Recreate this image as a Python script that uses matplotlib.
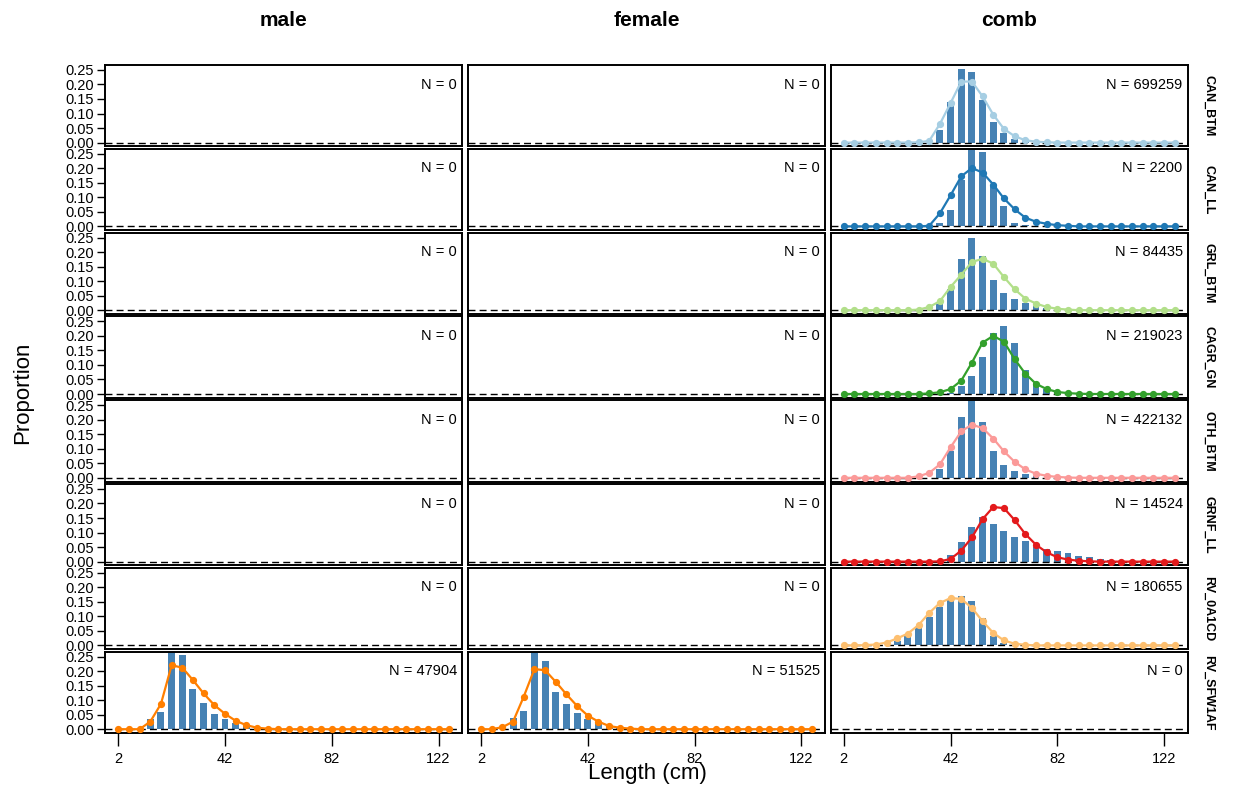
import numpy as np
import matplotlib.pyplot as plt

plt.rcParams['font.family'] = ['Liberation Sans', 'DejaVu Sans']

# length bins (cm)
lengths = np.arange(2, 127, 4)

fleets = ['CAN_BTM', 'CAN_LL', 'GRL_BTM', 'CAGR_GN', 'OTH_BTM', 'GRNF_LL',
          'RV_0A1CD', 'RV_SFW1AF']
sexes = ['male', 'female', 'comb']
fleet_cols = ['#A6CEE3', '#1F78B4', '#B2DF8A', '#33A02C', '#FB9A99',
              '#E31A1C', '#FDBF6F', '#FF7F00']

# observed (bars) and fitted (lines) proportions at length
can_btm_obs = [0] * 9 + [0.045, 0.139, 0.253, 0.242, 0.147, 0.071, 0.033, 0.014, 0.004] + [0] * 14
can_btm_fit = [0] * 7 + [0.001, 0.006, 0.064, 0.136, 0.210, 0.210, 0.159, 0.096, 0.047,
                         0.022, 0.008, 0.003, 0.001] + [0] * 12
can_ll_obs = [0] * 9 + [0.012, 0.055, 0.159, 0.275, 0.256, 0.142, 0.070, 0.011, 0.005] + [0] * 14
can_ll_fit = [0] * 8 + [0.002, 0.045, 0.107, 0.172, 0.201, 0.185, 0.144, 0.096, 0.059,
                        0.030, 0.016, 0.009, 0.004, 0.002] + [0] * 10
grl_btm_obs = [0] * 9 + [0.023, 0.074, 0.175, 0.248, 0.186, 0.103, 0.059, 0.038, 0.025,
                         0.015, 0.006] + [0] * 12
grl_btm_fit = [0] * 7 + [0.002, 0.011, 0.031, 0.080, 0.122, 0.166, 0.177, 0.160, 0.114,
                         0.072, 0.040, 0.023, 0.011, 0.005, 0.002] + [0] * 10
cagr_gn_obs = [0] * 10 + [0.005, 0.029, 0.063, 0.126, 0.211, 0.234, 0.174, 0.082, 0.037,
                          0.017, 0.007, 0.002] + [0] * 10
cagr_gn_fit = [0] * 8 + [0.002, 0.006, 0.017, 0.046, 0.108, 0.177, 0.200, 0.180, 0.120,
                         0.070, 0.035, 0.017, 0.007, 0.003, 0.001] + [0] * 9
oth_btm_obs = [0] * 9 + [0.029, 0.091, 0.208, 0.270, 0.192, 0.091, 0.043, 0.023, 0.014,
                         0.006] + [0] * 13
oth_btm_fit = [0] * 7 + [0.005, 0.017, 0.046, 0.105, 0.160, 0.183, 0.171, 0.135, 0.091,
                         0.055, 0.029, 0.014, 0.007, 0.003, 0.001] + [0] * 10
grnf_ll_obs = [0] * 10 + [0.023, 0.066, 0.120, 0.154, 0.131, 0.106, 0.086, 0.070, 0.051,
                          0.043, 0.035, 0.029, 0.021, 0.015, 0.008, 0.004, 0.002] + [0] * 5
grnf_ll_fit = [0] * 9 + [0.001, 0.009, 0.038, 0.083, 0.146, 0.188, 0.184, 0.143, 0.095,
                         0.058, 0.032, 0.015, 0.007, 0.003, 0.001] + [0] * 8
rv_0a1cd_obs = [0] * 4 + [0.003, 0.015, 0.035, 0.064, 0.097, 0.131, 0.158, 0.170, 0.153,
                          0.095, 0.034, 0.009] + [0] * 16
rv_0a1cd_fit = [0] * 2 + [0.001, 0.003, 0.010, 0.024, 0.041, 0.070, 0.112, 0.146, 0.163,
                          0.160, 0.129, 0.083, 0.043, 0.017, 0.006, 0.002] + [0] * 14
sfw_male_obs = [0] * 3 + [0.034, 0.058, 0.270, 0.255, 0.140, 0.091, 0.051, 0.035, 0.023,
                          0.011, 0.006] + [0] * 18
sfw_male_fit = [0] * 3 + [0.026, 0.087, 0.220, 0.212, 0.169, 0.123, 0.083, 0.053, 0.029,
                          0.014, 0.005, 0.002] + [0] * 17
sfw_female_obs = [0] * 2 + [0.009, 0.040, 0.063, 0.270, 0.235, 0.129, 0.086, 0.057, 0.035,
                            0.026, 0.011, 0.006] + [0] * 18
sfw_female_fit = [0] * 2 + [0.007, 0.026, 0.112, 0.207, 0.203, 0.163, 0.120, 0.080, 0.047,
                            0.026, 0.011, 0.005, 0.002] + [0] * 17

# sample sizes per fleet, in male / female / comb order
n_male = [0, 0, 0, 0, 0, 0, 0, 47904]
n_female = [0, 0, 0, 0, 0, 0, 0, 51525]
n_comb = [699259, 2200, 84435, 219023, 422132, 14524, 180655, 0]

panels = {
    ('CAN_BTM', 'comb'): (can_btm_obs, can_btm_fit),
    ('CAN_LL', 'comb'): (can_ll_obs, can_ll_fit),
    ('GRL_BTM', 'comb'): (grl_btm_obs, grl_btm_fit),
    ('CAGR_GN', 'comb'): (cagr_gn_obs, cagr_gn_fit),
    ('OTH_BTM', 'comb'): (oth_btm_obs, oth_btm_fit),
    ('GRNF_LL', 'comb'): (grnf_ll_obs, grnf_ll_fit),
    ('RV_0A1CD', 'comb'): (rv_0a1cd_obs, rv_0a1cd_fit),
    ('RV_SFW1AF', 'male'): (sfw_male_obs, sfw_male_fit),
    ('RV_SFW1AF', 'female'): (sfw_female_obs, sfw_female_fit),
}
n_all = {'male': n_male, 'female': n_female, 'comb': n_comb}

fig, axes = plt.subplots(8, 3, figsize=(12.4, 7.86), dpi=100)
fig.subplots_adjust(left=105 / 1240, right=1188 / 1240, top=1 - 65 / 786,
                    bottom=1 - 733 / 786, wspace=0.015, hspace=0.03)

for i, fleet in enumerate(fleets):
    for j, sex in enumerate(sexes):
        ax = axes[i, j]
        key = (fleet, sex)
        if key in panels:
            obs, fit = panels[key]
            ax.bar(lengths, obs, width=2.6, color='#4682B4', zorder=1)
        ax.axhline(0, color='black', ls=(0, (5, 3)), lw=1, zorder=2)
        if key in panels:
            ax.plot(lengths, fit, '-o', color=fleet_cols[i], lw=1.6, ms=4.2, zorder=3)
        ax.text(0.985, 0.76, f'N = {n_all[sex][i]}', transform=ax.transAxes,
                ha='right', va='center', fontsize=10.5)
        ax.set_xlim(-2.96, 130.96)
        ax.set_ylim(-0.013, 0.267)
        for s in ax.spines.values():
            s.set_linewidth(1.4)
        ax.set_xticks([2, 42, 82, 122])
        ax.set_yticks([0, 0.05, 0.10, 0.15, 0.20, 0.25])
        if j == 0:
            ax.set_yticklabels(['0.00', '0.05', '0.10', '0.15', '0.20', '0.25'])
            ax.tick_params(axis='y', labelsize=10.5, length=6, width=1, pad=2)
        else:
            ax.tick_params(axis='y', left=False, labelleft=False)
        if i == 7:
            ax.tick_params(axis='x', labelsize=10.5, length=9, width=1, pad=5)
        else:
            ax.tick_params(axis='x', bottom=False, labelbottom=False)
        if i == 0:
            ax.set_title(sex, fontsize=15, fontweight='bold', pad=28)
        if j == 2:
            ax.text(1.04, 0.5, fleet, transform=ax.transAxes, rotation=270,
                    ha='left', va='center', fontsize=9, fontweight='bold')

fig.text(0.018, 0.5, 'Proportion', rotation=90, ha='center', va='center', fontsize=16)
fig.text(0.522, 0.016, 'Length (cm)', ha='center', va='center', fontsize=16)

fig.savefig('out.png', dpi=100)
